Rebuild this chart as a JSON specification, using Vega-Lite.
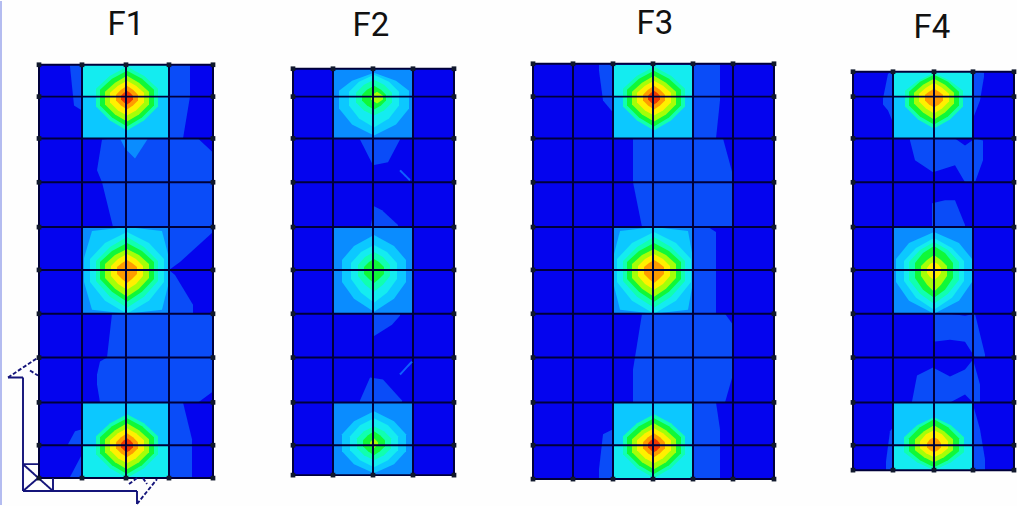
{"$schema":"https://vega.github.io/schema/vega-lite/v6.json","width":1017,"height":506,"padding":0,"autosize":{"type":"fit","contains":"padding"},"background":"#fefefe","config":{"view":{"stroke":null}},
"datasets":{
"shapes":[
{"g":1,"l":0,"x":3.8,"y":6.4,"z":47.9},{"g":1,"l":0,"x":21.4,"y":6.4,"z":47.9},
{"g":2,"l":0,"x":29.3,"y":6.8,"z":47.6},{"g":2,"l":0,"x":45.4,"y":6.8,"z":47.6},
{"g":3,"l":0,"x":53.3,"y":6.3,"z":48.0},{"g":3,"l":0,"x":77.4,"y":6.3,"z":48.0},
{"g":4,"l":0,"x":85.3,"y":7.1,"z":47.1},{"g":4,"l":0,"x":101.4,"y":7.1,"z":47.1},
{"g":10,"l":1,"x":16.9,"y":6.4,"z":13.8},{"g":10,"l":1,"x":18.3,"y":6.4,"z":13.8},{"g":10,"l":1,"x":19.0,"y":6.4,"z":9.6},
{"g":11,"l":1,"x":7.0,"y":6.4,"z":6.6},{"g":11,"l":1,"x":7.4,"y":6.4,"z":10.5},{"g":11,"l":1,"x":8.2,"y":6.4,"z":11.0},
{"g":12,"l":1,"x":9.7,"y":17.0,"z":17.0},{"g":12,"l":1,"x":10.2,"y":13.9,"z":18.2},{"g":12,"l":1,"x":11.3,"y":13.8,"z":22.7},{"g":12,"l":1,"x":19.8,"y":13.8,"z":22.7},{"g":12,"l":1,"x":21.3,"y":15.2,"z":22.7},
{"g":13,"l":2,"x":12.0,"y":13.8,"z":13.8},{"g":13,"l":2,"x":12.5,"y":13.8,"z":14.8},{"g":13,"l":2,"x":13.5,"y":13.8,"z":15.8},{"g":13,"l":2,"x":14.8,"y":13.8,"z":13.8},
{"g":14,"l":1,"x":16.9,"y":22.7,"z":27.0},{"g":14,"l":1,"x":18.0,"y":22.7,"z":26.2},{"g":14,"l":1,"x":21.3,"y":22.7,"z":23.2},
{"g":15,"l":1,"x":16.9,"y":27.0,"z":31.4},{"g":15,"l":1,"x":17.5,"y":27.5,"z":31.4},{"g":15,"l":1,"x":19.3,"y":30.5,"z":31.4},
{"g":16,"l":1,"x":9.7,"y":37.5,"z":38.5},{"g":16,"l":1,"x":10.0,"y":36.2,"z":40.3},{"g":16,"l":1,"x":10.7,"y":35.8,"z":40.3},{"g":16,"l":1,"x":11.2,"y":31.4,"z":40.3},{"g":16,"l":1,"x":19.8,"y":31.4,"z":40.3},{"g":16,"l":1,"x":21.3,"y":31.4,"z":39.2},
{"g":17,"l":1,"x":16.9,"y":40.3,"z":47.9},{"g":17,"l":1,"x":18.3,"y":40.3,"z":47.9},{"g":17,"l":1,"x":19.2,"y":44.0,"z":47.9},
{"g":18,"l":1,"x":6.8,"y":44.5,"z":44.6},{"g":18,"l":1,"x":7.5,"y":43.2,"z":44.6},{"g":18,"l":1,"x":8.2,"y":43.0,"z":44.6},
{"g":19,"l":1,"x":7.0,"y":47.8,"z":47.9},{"g":19,"l":1,"x":8.2,"y":45.5,"z":47.9},
{"g":20,"l":1,"x":36.0,"y":13.8,"z":13.9},{"g":20,"l":1,"x":37.3,"y":13.8,"z":16.5},{"g":20,"l":1,"x":38.8,"y":13.8,"z":16.2},{"g":20,"l":1,"x":40.0,"y":13.8,"z":13.9},
{"g":21,"l":1,"x":37.1,"y":22.5,"z":22.7},{"g":21,"l":1,"x":37.4,"y":20.6,"z":22.7},{"g":21,"l":1,"x":38.2,"y":21.0,"z":22.7},{"g":21,"l":1,"x":39.8,"y":22.5,"z":22.7},
{"g":22,"l":1,"x":37.3,"y":31.4,"z":33.7},{"g":22,"l":1,"x":39.2,"y":31.4,"z":32.5},{"g":22,"l":1,"x":40.0,"y":31.4,"z":31.6},
{"g":23,"l":1,"x":36.0,"y":40.1,"z":40.3},{"g":23,"l":1,"x":37.0,"y":37.8,"z":40.3},{"g":23,"l":1,"x":38.3,"y":38.0,"z":40.3},{"g":23,"l":1,"x":40.2,"y":40.1,"z":40.3},
{"g":24,"l":1,"x":59.9,"y":6.4,"z":7.0},{"g":24,"l":1,"x":60.3,"y":6.4,"z":10.0},{"g":24,"l":1,"x":61.3,"y":6.4,"z":11.2},
{"g":25,"l":1,"x":69.3,"y":6.4,"z":13.8},{"g":25,"l":1,"x":71.6,"y":6.4,"z":13.8},{"g":25,"l":1,"x":72.0,"y":6.4,"z":10.0},
{"g":26,"l":1,"x":63.3,"y":13.8,"z":18.2},{"g":26,"l":1,"x":64.2,"y":13.8,"z":22.7},{"g":26,"l":1,"x":72.3,"y":13.8,"z":22.7},{"g":26,"l":1,"x":73.3,"y":17.5,"z":22.7},
{"g":27,"l":1,"x":69.3,"y":22.7,"z":31.4},{"g":27,"l":1,"x":70.8,"y":22.7,"z":31.4},{"g":27,"l":1,"x":71.6,"y":23.2,"z":31.4},
{"g":28,"l":1,"x":63.3,"y":37.0,"z":40.3},{"g":28,"l":1,"x":64.2,"y":31.4,"z":40.3},{"g":28,"l":1,"x":72.5,"y":31.4,"z":40.3},{"g":28,"l":1,"x":73.3,"y":32.5,"z":37.5},
{"g":29,"l":1,"x":69.3,"y":40.3,"z":48.0},{"g":29,"l":1,"x":71.6,"y":40.3,"z":48.0},{"g":29,"l":1,"x":72.0,"y":43.0,"z":48.0},
{"g":30,"l":1,"x":59.9,"y":47.0,"z":48.0},{"g":30,"l":1,"x":60.3,"y":43.5,"z":48.0},{"g":30,"l":1,"x":61.3,"y":43.0,"z":48.0},
{"g":31,"l":1,"x":88.3,"y":9.8,"z":10.4},{"g":31,"l":1,"x":88.8,"y":7.3,"z":11.0},{"g":31,"l":1,"x":89.3,"y":7.1,"z":12.2},
{"g":32,"l":1,"x":97.3,"y":7.1,"z":11.8},{"g":32,"l":1,"x":98.0,"y":7.1,"z":10.0},{"g":32,"l":1,"x":98.4,"y":7.2,"z":7.6},
{"g":33,"l":1,"x":91.0,"y":13.8,"z":14.0},{"g":33,"l":1,"x":91.5,"y":13.8,"z":16.0},{"g":33,"l":1,"x":93.3,"y":13.8,"z":17.2},{"g":33,"l":1,"x":95.5,"y":13.8,"z":16.5},{"g":33,"l":1,"x":96.5,"y":14.5,"z":18.2},{"g":33,"l":1,"x":97.5,"y":13.8,"z":18.2},{"g":33,"l":1,"x":98.3,"y":14.0,"z":16.0},
{"g":34,"l":1,"x":93.2,"y":20.3,"z":22.7},{"g":34,"l":1,"x":94.5,"y":20.0,"z":22.7},{"g":34,"l":1,"x":95.5,"y":20.0,"z":22.7},{"g":34,"l":1,"x":96.5,"y":22.5,"z":22.7},
{"g":35,"l":1,"x":93.3,"y":31.4,"z":34.2},{"g":35,"l":1,"x":95.0,"y":31.4,"z":34.0},{"g":35,"l":1,"x":96.5,"y":31.6,"z":34.2},{"g":35,"l":1,"x":97.5,"y":31.4,"z":35.8},{"g":35,"l":1,"x":98.5,"y":35.5,"z":35.8},
{"g":36,"l":1,"x":91.2,"y":40.2,"z":40.3},{"g":36,"l":1,"x":91.7,"y":37.6,"z":40.3},{"g":36,"l":1,"x":93.3,"y":36.8,"z":40.3},{"g":36,"l":1,"x":95.0,"y":37.7,"z":40.3},{"g":36,"l":1,"x":96.5,"y":37.0,"z":39.5},{"g":36,"l":1,"x":97.3,"y":36.0,"z":40.3},{"g":36,"l":1,"x":98.0,"y":38.5,"z":40.3},
{"g":37,"l":1,"x":88.6,"y":46.2,"z":47.1},{"g":37,"l":1,"x":89.0,"y":43.2,"z":47.1},{"g":37,"l":1,"x":89.3,"y":42.8,"z":47.1},
{"g":38,"l":1,"x":97.3,"y":40.5,"z":47.1},{"g":38,"l":1,"x":98.0,"y":43.0,"z":47.1},{"g":38,"l":1,"x":98.5,"y":46.0,"z":47.1},
{"g":40,"l":4,"x":8.2,"y":6.4,"z":9.6},{"g":40,"l":4,"x":16.9,"y":6.4,"z":9.6},
{"g":41,"l":3,"x":8.2,"y":9.6,"z":13.8},{"g":41,"l":3,"x":16.9,"y":9.6,"z":13.8},
{"g":42,"l":2,"x":8.2,"y":22.7,"z":31.4},{"g":42,"l":2,"x":16.9,"y":22.7,"z":31.4},
{"g":43,"l":3,"x":8.2,"y":40.3,"z":44.6},{"g":43,"l":3,"x":16.9,"y":40.3,"z":44.6},
{"g":44,"l":4,"x":8.2,"y":44.6,"z":47.9},{"g":44,"l":4,"x":16.9,"y":44.6,"z":47.9},
{"g":45,"l":2,"x":33.3,"y":6.8,"z":13.8},{"g":45,"l":2,"x":41.3,"y":6.8,"z":13.8},
{"g":46,"l":2,"x":33.3,"y":22.7,"z":31.4},{"g":46,"l":2,"x":41.3,"y":22.7,"z":31.4},
{"g":47,"l":2,"x":33.3,"y":40.3,"z":47.6},{"g":47,"l":2,"x":41.3,"y":40.3,"z":47.6},
{"g":48,"l":4,"x":61.3,"y":6.4,"z":9.6},{"g":48,"l":4,"x":69.3,"y":6.4,"z":9.6},
{"g":49,"l":3,"x":61.3,"y":9.6,"z":13.8},{"g":49,"l":3,"x":69.3,"y":9.6,"z":13.8},
{"g":50,"l":2,"x":61.3,"y":22.7,"z":31.4},{"g":50,"l":2,"x":69.3,"y":22.7,"z":31.4},
{"g":51,"l":3,"x":61.3,"y":40.3,"z":44.6},{"g":51,"l":3,"x":69.3,"y":40.3,"z":44.6},
{"g":52,"l":4,"x":61.3,"y":44.6,"z":48.0},{"g":52,"l":4,"x":69.3,"y":44.6,"z":48.0},
{"g":53,"l":4,"x":89.3,"y":7.1,"z":9.6},{"g":53,"l":4,"x":97.3,"y":7.1,"z":9.6},
{"g":54,"l":3,"x":89.3,"y":9.6,"z":13.8},{"g":54,"l":3,"x":97.3,"y":9.6,"z":13.8},
{"g":55,"l":2,"x":89.3,"y":22.7,"z":31.4},{"g":55,"l":2,"x":97.3,"y":22.7,"z":31.4},
{"g":56,"l":3,"x":89.3,"y":40.3,"z":44.6},{"g":56,"l":3,"x":97.3,"y":40.3,"z":44.6},
{"g":57,"l":4,"x":89.3,"y":44.6,"z":47.1},{"g":57,"l":4,"x":97.3,"y":44.6,"z":47.1},
{"g":100,"l":5,"x":9.6,"y":8.8,"z":10.6},{"g":100,"l":5,"x":11.0,"y":7.5,"z":12.0},{"g":100,"l":5,"x":12.7,"y":6.6,"z":13.0},{"g":100,"l":5,"x":14.4,"y":7.5,"z":12.0},{"g":100,"l":5,"x":15.8,"y":8.8,"z":10.6},
{"g":101,"l":6,"x":10.0,"y":8.9,"z":10.5},{"g":101,"l":6,"x":11.2,"y":7.8,"z":11.7},{"g":101,"l":6,"x":12.7,"y":7.0,"z":12.6},{"g":101,"l":6,"x":14.2,"y":7.8,"z":11.7},{"g":101,"l":6,"x":15.4,"y":8.9,"z":10.5},
{"g":102,"l":7,"x":10.5,"y":9.1,"z":10.4},{"g":102,"l":7,"x":11.5,"y":8.2,"z":11.4},{"g":102,"l":7,"x":12.7,"y":7.5,"z":12.1},{"g":102,"l":7,"x":13.9,"y":8.2,"z":11.4},{"g":102,"l":7,"x":14.9,"y":9.1,"z":10.4},
{"g":103,"l":8,"x":11.0,"y":9.2,"z":10.2},{"g":103,"l":8,"x":11.8,"y":8.5,"z":11.0},{"g":103,"l":8,"x":12.7,"y":8.0,"z":11.5},{"g":103,"l":8,"x":13.6,"y":8.5,"z":11.0},{"g":103,"l":8,"x":14.4,"y":9.2,"z":10.2},
{"g":104,"l":9,"x":11.6,"y":9.4,"z":10.0},{"g":104,"l":9,"x":12.1,"y":8.9,"z":10.5},{"g":104,"l":9,"x":12.7,"y":8.5,"z":10.9},{"g":104,"l":9,"x":13.3,"y":8.9,"z":10.5},{"g":104,"l":9,"x":13.8,"y":9.4,"z":10.0},
{"g":105,"l":10,"x":12.1,"y":9.5,"z":9.9},{"g":105,"l":10,"x":12.4,"y":9.2,"z":10.2},{"g":105,"l":10,"x":12.7,"y":9.0,"z":10.4},{"g":105,"l":10,"x":13.0,"y":9.2,"z":10.2},{"g":105,"l":10,"x":13.3,"y":9.5,"z":9.9},
{"g":110,"l":5,"x":9.6,"y":43.7,"z":45.5},{"g":110,"l":5,"x":11.0,"y":42.4,"z":46.9},{"g":110,"l":5,"x":12.7,"y":41.5,"z":47.9},{"g":110,"l":5,"x":14.4,"y":42.4,"z":46.9},{"g":110,"l":5,"x":15.8,"y":43.7,"z":45.5},
{"g":111,"l":6,"x":10.0,"y":43.8,"z":45.4},{"g":111,"l":6,"x":11.2,"y":42.7,"z":46.6},{"g":111,"l":6,"x":12.7,"y":41.9,"z":47.5},{"g":111,"l":6,"x":14.2,"y":42.7,"z":46.6},{"g":111,"l":6,"x":15.4,"y":43.8,"z":45.4},
{"g":112,"l":7,"x":10.5,"y":44.0,"z":45.3},{"g":112,"l":7,"x":11.5,"y":43.1,"z":46.3},{"g":112,"l":7,"x":12.7,"y":42.4,"z":47.0},{"g":112,"l":7,"x":13.9,"y":43.1,"z":46.3},{"g":112,"l":7,"x":14.9,"y":44.0,"z":45.3},
{"g":113,"l":8,"x":11.0,"y":44.1,"z":45.1},{"g":113,"l":8,"x":11.8,"y":43.4,"z":45.9},{"g":113,"l":8,"x":12.7,"y":42.9,"z":46.4},{"g":113,"l":8,"x":13.6,"y":43.4,"z":45.9},{"g":113,"l":8,"x":14.4,"y":44.1,"z":45.1},
{"g":114,"l":9,"x":11.6,"y":44.3,"z":44.9},{"g":114,"l":9,"x":12.1,"y":43.8,"z":45.4},{"g":114,"l":9,"x":12.7,"y":43.4,"z":45.8},{"g":114,"l":9,"x":13.3,"y":43.8,"z":45.4},{"g":114,"l":9,"x":13.8,"y":44.3,"z":44.9},
{"g":115,"l":10,"x":12.1,"y":44.4,"z":44.8},{"g":115,"l":10,"x":12.4,"y":44.1,"z":45.1},{"g":115,"l":10,"x":12.7,"y":43.9,"z":45.3},{"g":115,"l":10,"x":13.0,"y":44.1,"z":45.1},{"g":115,"l":10,"x":13.3,"y":44.4,"z":44.8},
{"g":120,"l":5,"x":62.3,"y":8.8,"z":10.6},{"g":120,"l":5,"x":63.7,"y":7.5,"z":12.0},{"g":120,"l":5,"x":65.4,"y":6.6,"z":13.0},{"g":120,"l":5,"x":67.1,"y":7.5,"z":12.0},{"g":120,"l":5,"x":68.5,"y":8.8,"z":10.6},
{"g":121,"l":6,"x":62.7,"y":8.9,"z":10.5},{"g":121,"l":6,"x":63.9,"y":7.8,"z":11.7},{"g":121,"l":6,"x":65.4,"y":7.0,"z":12.6},{"g":121,"l":6,"x":66.9,"y":7.8,"z":11.7},{"g":121,"l":6,"x":68.1,"y":8.9,"z":10.5},
{"g":122,"l":7,"x":63.2,"y":9.1,"z":10.4},{"g":122,"l":7,"x":64.2,"y":8.2,"z":11.4},{"g":122,"l":7,"x":65.4,"y":7.5,"z":12.1},{"g":122,"l":7,"x":66.6,"y":8.2,"z":11.4},{"g":122,"l":7,"x":67.6,"y":9.1,"z":10.4},
{"g":123,"l":8,"x":63.7,"y":9.2,"z":10.2},{"g":123,"l":8,"x":64.5,"y":8.5,"z":11.0},{"g":123,"l":8,"x":65.4,"y":8.0,"z":11.5},{"g":123,"l":8,"x":66.3,"y":8.5,"z":11.0},{"g":123,"l":8,"x":67.1,"y":9.2,"z":10.2},
{"g":124,"l":9,"x":64.3,"y":9.4,"z":10.0},{"g":124,"l":9,"x":64.8,"y":8.9,"z":10.5},{"g":124,"l":9,"x":65.4,"y":8.5,"z":10.9},{"g":124,"l":9,"x":66.0,"y":8.9,"z":10.5},{"g":124,"l":9,"x":66.5,"y":9.4,"z":10.0},
{"g":125,"l":10,"x":64.8,"y":9.5,"z":9.9},{"g":125,"l":10,"x":65.1,"y":9.2,"z":10.2},{"g":125,"l":10,"x":65.4,"y":9.0,"z":10.4},{"g":125,"l":10,"x":65.7,"y":9.2,"z":10.2},{"g":125,"l":10,"x":66.0,"y":9.5,"z":9.9},
{"g":130,"l":5,"x":62.3,"y":43.7,"z":45.5},{"g":130,"l":5,"x":63.7,"y":42.4,"z":46.9},{"g":130,"l":5,"x":65.4,"y":41.5,"z":47.9},{"g":130,"l":5,"x":67.1,"y":42.4,"z":46.9},{"g":130,"l":5,"x":68.5,"y":43.7,"z":45.5},
{"g":131,"l":6,"x":62.7,"y":43.8,"z":45.4},{"g":131,"l":6,"x":63.9,"y":42.7,"z":46.6},{"g":131,"l":6,"x":65.4,"y":41.9,"z":47.5},{"g":131,"l":6,"x":66.9,"y":42.7,"z":46.6},{"g":131,"l":6,"x":68.1,"y":43.8,"z":45.4},
{"g":132,"l":7,"x":63.2,"y":44.0,"z":45.3},{"g":132,"l":7,"x":64.2,"y":43.1,"z":46.3},{"g":132,"l":7,"x":65.4,"y":42.4,"z":47.0},{"g":132,"l":7,"x":66.6,"y":43.1,"z":46.3},{"g":132,"l":7,"x":67.6,"y":44.0,"z":45.3},
{"g":133,"l":8,"x":63.7,"y":44.1,"z":45.1},{"g":133,"l":8,"x":64.5,"y":43.4,"z":45.9},{"g":133,"l":8,"x":65.4,"y":42.9,"z":46.4},{"g":133,"l":8,"x":66.3,"y":43.4,"z":45.9},{"g":133,"l":8,"x":67.1,"y":44.1,"z":45.1},
{"g":134,"l":9,"x":64.3,"y":44.3,"z":44.9},{"g":134,"l":9,"x":64.8,"y":43.8,"z":45.4},{"g":134,"l":9,"x":65.4,"y":43.4,"z":45.8},{"g":134,"l":9,"x":66.0,"y":43.8,"z":45.4},{"g":134,"l":9,"x":66.5,"y":44.3,"z":44.9},
{"g":135,"l":10,"x":64.8,"y":44.4,"z":44.8},{"g":135,"l":10,"x":65.1,"y":44.1,"z":45.1},{"g":135,"l":10,"x":65.4,"y":43.9,"z":45.3},{"g":135,"l":10,"x":65.7,"y":44.1,"z":45.1},{"g":135,"l":10,"x":66.0,"y":44.4,"z":44.8},
{"g":140,"l":3,"x":8.4,"y":25.8,"z":28.2},{"g":140,"l":3,"x":9.2,"y":23.1,"z":31.0},{"g":140,"l":3,"x":12.7,"y":22.7,"z":31.4},{"g":140,"l":3,"x":16.2,"y":23.1,"z":31.0},{"g":140,"l":3,"x":16.9,"y":25.8,"z":28.2},
{"g":141,"l":4,"x":9.0,"y":25.9,"z":28.2},{"g":141,"l":4,"x":10.5,"y":24.3,"z":30.1},{"g":141,"l":4,"x":12.7,"y":23.2,"z":31.4},{"g":141,"l":4,"x":14.9,"y":24.3,"z":30.1},{"g":141,"l":4,"x":16.4,"y":25.9,"z":28.2},
{"g":142,"l":5,"x":9.6,"y":26.1,"z":28.1},{"g":142,"l":5,"x":11.0,"y":24.7,"z":29.7},{"g":142,"l":5,"x":12.7,"y":23.7,"z":30.8},{"g":142,"l":5,"x":14.4,"y":24.7,"z":29.7},{"g":142,"l":5,"x":15.8,"y":26.1,"z":28.1},
{"g":143,"l":6,"x":10.0,"y":26.2,"z":27.9},{"g":143,"l":6,"x":11.2,"y":25.1,"z":29.2},{"g":143,"l":6,"x":12.7,"y":24.3,"z":30.2},{"g":143,"l":6,"x":14.2,"y":25.1,"z":29.2},{"g":143,"l":6,"x":15.4,"y":26.2,"z":27.9},
{"g":144,"l":7,"x":10.5,"y":26.4,"z":27.8},{"g":144,"l":7,"x":11.5,"y":25.5,"z":28.9},{"g":144,"l":7,"x":12.7,"y":24.9,"z":29.7},{"g":144,"l":7,"x":13.9,"y":25.5,"z":28.9},{"g":144,"l":7,"x":14.9,"y":26.4,"z":27.8},
{"g":145,"l":8,"x":11.1,"y":26.6,"z":27.6},{"g":145,"l":8,"x":11.8,"y":25.9,"z":28.4},{"g":145,"l":8,"x":12.7,"y":25.4,"z":29.0},{"g":145,"l":8,"x":13.6,"y":25.9,"z":28.4},{"g":145,"l":8,"x":14.3,"y":26.6,"z":27.6},
{"g":146,"l":9,"x":11.7,"y":26.7,"z":27.4},{"g":146,"l":9,"x":12.2,"y":26.3,"z":27.9},{"g":146,"l":9,"x":12.7,"y":26.0,"z":28.3},{"g":146,"l":9,"x":13.2,"y":26.3,"z":27.9},{"g":146,"l":9,"x":13.7,"y":26.7,"z":27.4},
{"g":150,"l":3,"x":61.3,"y":25.8,"z":28.2},{"g":150,"l":3,"x":62.0,"y":23.1,"z":31.0},{"g":150,"l":3,"x":65.4,"y":22.7,"z":31.4},{"g":150,"l":3,"x":68.8,"y":23.1,"z":31.0},{"g":150,"l":3,"x":69.3,"y":25.8,"z":28.2},
{"g":151,"l":4,"x":61.7,"y":25.9,"z":28.2},{"g":151,"l":4,"x":63.2,"y":24.3,"z":30.1},{"g":151,"l":4,"x":65.4,"y":23.2,"z":31.4},{"g":151,"l":4,"x":67.6,"y":24.3,"z":30.1},{"g":151,"l":4,"x":69.1,"y":25.9,"z":28.2},
{"g":152,"l":5,"x":62.3,"y":26.1,"z":28.1},{"g":152,"l":5,"x":63.7,"y":24.7,"z":29.7},{"g":152,"l":5,"x":65.4,"y":23.7,"z":30.8},{"g":152,"l":5,"x":67.1,"y":24.7,"z":29.7},{"g":152,"l":5,"x":68.5,"y":26.1,"z":28.1},
{"g":153,"l":6,"x":62.7,"y":26.2,"z":27.9},{"g":153,"l":6,"x":63.9,"y":25.1,"z":29.2},{"g":153,"l":6,"x":65.4,"y":24.3,"z":30.2},{"g":153,"l":6,"x":66.9,"y":25.1,"z":29.2},{"g":153,"l":6,"x":68.1,"y":26.2,"z":27.9},
{"g":154,"l":7,"x":63.2,"y":26.4,"z":27.8},{"g":154,"l":7,"x":64.2,"y":25.5,"z":28.9},{"g":154,"l":7,"x":65.4,"y":24.9,"z":29.7},{"g":154,"l":7,"x":66.6,"y":25.5,"z":28.9},{"g":154,"l":7,"x":67.6,"y":26.4,"z":27.8},
{"g":155,"l":8,"x":63.8,"y":26.6,"z":27.6},{"g":155,"l":8,"x":64.5,"y":25.9,"z":28.4},{"g":155,"l":8,"x":65.4,"y":25.4,"z":29.0},{"g":155,"l":8,"x":66.3,"y":25.9,"z":28.4},{"g":155,"l":8,"x":67.0,"y":26.6,"z":27.6},
{"g":156,"l":9,"x":64.4,"y":26.7,"z":27.4},{"g":156,"l":9,"x":64.9,"y":26.3,"z":27.9},{"g":156,"l":9,"x":65.4,"y":26.0,"z":28.3},{"g":156,"l":9,"x":65.9,"y":26.3,"z":27.9},{"g":156,"l":9,"x":66.4,"y":26.7,"z":27.4},
{"g":160,"l":5,"x":90.5,"y":9.0,"z":10.6},{"g":160,"l":5,"x":91.8,"y":8.0,"z":11.9},{"g":160,"l":5,"x":93.4,"y":7.2,"z":12.8},{"g":160,"l":5,"x":95.0,"y":8.0,"z":11.9},{"g":160,"l":5,"x":96.3,"y":9.0,"z":10.6},
{"g":161,"l":6,"x":90.9,"y":9.1,"z":10.5},{"g":161,"l":6,"x":92.0,"y":8.1,"z":11.6},{"g":161,"l":6,"x":93.4,"y":7.4,"z":12.4},{"g":161,"l":6,"x":94.8,"y":8.1,"z":11.6},{"g":161,"l":6,"x":95.9,"y":9.1,"z":10.5},
{"g":162,"l":7,"x":91.4,"y":9.2,"z":10.3},{"g":162,"l":7,"x":92.3,"y":8.4,"z":11.2},{"g":162,"l":7,"x":93.4,"y":7.8,"z":11.9},{"g":162,"l":7,"x":94.5,"y":8.4,"z":11.2},{"g":162,"l":7,"x":95.4,"y":9.2,"z":10.3},
{"g":163,"l":8,"x":91.9,"y":9.3,"z":10.1},{"g":163,"l":8,"x":92.6,"y":8.7,"z":10.8},{"g":163,"l":8,"x":93.4,"y":8.2,"z":11.3},{"g":163,"l":8,"x":94.2,"y":8.7,"z":10.8},{"g":163,"l":8,"x":94.9,"y":9.3,"z":10.1},
{"g":164,"l":9,"x":92.5,"y":9.4,"z":10.0},{"g":164,"l":9,"x":92.9,"y":9.1,"z":10.4},{"g":164,"l":9,"x":93.4,"y":8.8,"z":10.7},{"g":164,"l":9,"x":93.9,"y":9.1,"z":10.4},{"g":164,"l":9,"x":94.3,"y":9.4,"z":10.0},
{"g":170,"l":3,"x":89.6,"y":25.9,"z":28.2},{"g":170,"l":3,"x":90.9,"y":24.3,"z":30.1},{"g":170,"l":3,"x":93.4,"y":23.2,"z":31.4},{"g":170,"l":3,"x":95.9,"y":24.3,"z":30.1},{"g":170,"l":3,"x":97.2,"y":25.9,"z":28.2},
{"g":171,"l":4,"x":90.4,"y":26.1,"z":28.1},{"g":171,"l":4,"x":91.6,"y":24.8,"z":29.8},{"g":171,"l":4,"x":93.4,"y":23.8,"z":31.0},{"g":171,"l":4,"x":95.2,"y":24.8,"z":29.8},{"g":171,"l":4,"x":96.4,"y":26.1,"z":28.1},
{"g":172,"l":5,"x":90.9,"y":26.2,"z":28.0},{"g":172,"l":5,"x":92.0,"y":25.0,"z":29.4},{"g":172,"l":5,"x":93.4,"y":24.2,"z":30.4},{"g":172,"l":5,"x":94.8,"y":25.0,"z":29.4},{"g":172,"l":5,"x":95.9,"y":26.2,"z":28.0},
{"g":173,"l":6,"x":91.5,"y":26.3,"z":27.8},{"g":173,"l":6,"x":92.3,"y":25.3,"z":29.0},{"g":173,"l":6,"x":93.4,"y":24.6,"z":29.8},{"g":173,"l":6,"x":94.5,"y":25.3,"z":29.0},{"g":173,"l":6,"x":95.3,"y":26.3,"z":27.8},
{"g":174,"l":7,"x":92.1,"y":26.6,"z":27.6},{"g":174,"l":7,"x":92.7,"y":26.0,"z":28.5},{"g":174,"l":7,"x":93.4,"y":25.5,"z":29.2},{"g":174,"l":7,"x":94.1,"y":26.0,"z":28.5},{"g":174,"l":7,"x":94.7,"y":26.6,"z":27.6},
{"g":175,"l":8,"x":92.7,"y":26.8,"z":27.3},{"g":175,"l":8,"x":93.0,"y":26.4,"z":27.7},{"g":175,"l":8,"x":93.4,"y":26.2,"z":28.0},{"g":175,"l":8,"x":93.8,"y":26.4,"z":27.7},{"g":175,"l":8,"x":94.1,"y":26.8,"z":27.3},
{"g":180,"l":5,"x":90.4,"y":43.8,"z":45.3},{"g":180,"l":5,"x":91.7,"y":42.6,"z":46.3},{"g":180,"l":5,"x":93.4,"y":41.8,"z":47.1},{"g":180,"l":5,"x":95.1,"y":42.6,"z":46.3},{"g":180,"l":5,"x":96.4,"y":43.8,"z":45.3},
{"g":181,"l":6,"x":90.9,"y":43.9,"z":45.2},{"g":181,"l":6,"x":92.0,"y":42.8,"z":46.1},{"g":181,"l":6,"x":93.4,"y":42.0,"z":46.8},{"g":181,"l":6,"x":94.8,"y":42.8,"z":46.1},{"g":181,"l":6,"x":95.9,"y":43.9,"z":45.2},
{"g":182,"l":7,"x":91.5,"y":44.0,"z":45.1},{"g":182,"l":7,"x":92.4,"y":43.2,"z":45.8},{"g":182,"l":7,"x":93.4,"y":42.6,"z":46.3},{"g":182,"l":7,"x":94.4,"y":43.2,"z":45.8},{"g":182,"l":7,"x":95.3,"y":44.0,"z":45.1},
{"g":183,"l":8,"x":92.0,"y":44.2,"z":44.9},{"g":183,"l":8,"x":92.6,"y":43.5,"z":45.4},{"g":183,"l":8,"x":93.4,"y":43.1,"z":45.8},{"g":183,"l":8,"x":94.2,"y":43.5,"z":45.4},{"g":183,"l":8,"x":94.8,"y":44.2,"z":44.9},
{"g":184,"l":9,"x":92.7,"y":44.4,"z":44.8},{"g":184,"l":9,"x":93.0,"y":44.0,"z":45.1},{"g":184,"l":9,"x":93.4,"y":43.8,"z":45.3},{"g":184,"l":9,"x":93.8,"y":44.0,"z":45.1},{"g":184,"l":9,"x":94.1,"y":44.4,"z":44.8},
{"g":190,"l":3,"x":33.9,"y":9.0,"z":10.8},{"g":190,"l":3,"x":35.2,"y":8.0,"z":12.4},{"g":190,"l":3,"x":37.4,"y":7.2,"z":13.5},{"g":190,"l":3,"x":39.6,"y":8.0,"z":12.4},{"g":190,"l":3,"x":40.9,"y":9.0,"z":10.8},
{"g":191,"l":4,"x":34.9,"y":9.1,"z":10.5},{"g":191,"l":4,"x":35.9,"y":8.1,"z":11.8},{"g":191,"l":4,"x":37.4,"y":7.4,"z":12.7},{"g":191,"l":4,"x":38.9,"y":8.1,"z":11.8},{"g":191,"l":4,"x":39.9,"y":9.1,"z":10.5},
{"g":192,"l":5,"x":35.6,"y":9.2,"z":10.2},{"g":192,"l":5,"x":36.4,"y":8.4,"z":11.0},{"g":192,"l":5,"x":37.4,"y":7.9,"z":11.5},{"g":192,"l":5,"x":38.4,"y":8.4,"z":11.0},{"g":192,"l":5,"x":39.2,"y":9.2,"z":10.2},
{"g":193,"l":6,"x":36.2,"y":9.4,"z":10.0},{"g":193,"l":6,"x":36.7,"y":8.9,"z":10.5},{"g":193,"l":6,"x":37.4,"y":8.5,"z":10.9},{"g":193,"l":6,"x":38.1,"y":8.9,"z":10.5},{"g":193,"l":6,"x":38.6,"y":9.4,"z":10.0},
{"g":194,"l":7,"x":37.1,"y":9.5,"z":9.9},{"g":194,"l":7,"x":37.4,"y":9.3,"z":10.1},{"g":194,"l":7,"x":37.7,"y":9.1,"z":10.3},{"g":194,"l":7,"x":38.0,"y":9.3,"z":10.1},{"g":194,"l":7,"x":38.3,"y":9.5,"z":9.9},
{"g":200,"l":3,"x":34.2,"y":26.0,"z":28.2},{"g":200,"l":3,"x":35.4,"y":24.6,"z":29.9},{"g":200,"l":3,"x":37.4,"y":23.5,"z":31.2},{"g":200,"l":3,"x":39.4,"y":24.6,"z":29.9},{"g":200,"l":3,"x":40.6,"y":26.0,"z":28.2},
{"g":201,"l":4,"x":35.1,"y":26.3,"z":27.9},{"g":201,"l":4,"x":36.1,"y":25.2,"z":29.3},{"g":201,"l":4,"x":37.4,"y":24.5,"z":30.3},{"g":201,"l":4,"x":38.7,"y":25.2,"z":29.3},{"g":201,"l":4,"x":39.7,"y":26.3,"z":27.9},
{"g":202,"l":5,"x":35.8,"y":26.5,"z":27.6},{"g":202,"l":5,"x":36.5,"y":25.7,"z":28.5},{"g":202,"l":5,"x":37.4,"y":25.2,"z":29.2},{"g":202,"l":5,"x":38.3,"y":25.7,"z":28.5},{"g":202,"l":5,"x":39.0,"y":26.5,"z":27.6},
{"g":203,"l":6,"x":36.4,"y":26.7,"z":27.4},{"g":203,"l":6,"x":36.9,"y":26.2,"z":27.9},{"g":203,"l":6,"x":37.4,"y":25.9,"z":28.3},{"g":203,"l":6,"x":37.9,"y":26.2,"z":27.9},{"g":203,"l":6,"x":38.4,"y":26.7,"z":27.4},
{"g":210,"l":3,"x":34.2,"y":43.5,"z":45.2},{"g":210,"l":3,"x":35.4,"y":42.2,"z":46.5},{"g":210,"l":3,"x":37.4,"y":41.2,"z":47.4},{"g":210,"l":3,"x":39.4,"y":42.2,"z":46.5},{"g":210,"l":3,"x":40.6,"y":43.5,"z":45.2},
{"g":211,"l":4,"x":35.0,"y":43.7,"z":45.1},{"g":211,"l":4,"x":36.0,"y":42.6,"z":46.1},{"g":211,"l":4,"x":37.4,"y":41.9,"z":46.8},{"g":211,"l":4,"x":38.8,"y":42.6,"z":46.1},{"g":211,"l":4,"x":39.8,"y":43.7,"z":45.1},
{"g":212,"l":5,"x":35.7,"y":43.9,"z":44.9},{"g":212,"l":5,"x":36.4,"y":43.2,"z":45.6},{"g":212,"l":5,"x":37.4,"y":42.7,"z":46.1},{"g":212,"l":5,"x":38.4,"y":43.2,"z":45.6},{"g":212,"l":5,"x":39.1,"y":43.9,"z":44.9},
{"g":213,"l":6,"x":36.3,"y":44.1,"z":44.7},{"g":213,"l":6,"x":36.8,"y":43.6,"z":45.2},{"g":213,"l":6,"x":37.4,"y":43.2,"z":45.6},{"g":213,"l":6,"x":38.0,"y":43.6,"z":45.2},{"g":213,"l":6,"x":38.5,"y":44.1,"z":44.7},
{"g":214,"l":7,"x":37.0,"y":44.3,"z":44.5},{"g":214,"l":7,"x":37.2,"y":44.1,"z":44.7},{"g":214,"l":7,"x":37.4,"y":43.9,"z":44.9},{"g":214,"l":7,"x":37.6,"y":44.1,"z":44.7},{"g":214,"l":7,"x":37.8,"y":44.3,"z":44.5}
],
"lines":[
{"k":"e","x":0.1,"u":0.1,"y":0,"z":50.6},
{"k":"g","x":3.9,"u":3.9,"y":6.4,"z":47.9},{"k":"g","x":8.2,"u":8.2,"y":6.4,"z":47.9},{"k":"g","x":12.6,"u":12.6,"y":6.4,"z":47.9},{"k":"g","x":16.9,"u":16.9,"y":6.4,"z":47.9},{"k":"g","x":21.3,"u":21.3,"y":6.4,"z":47.9},
{"k":"g","x":3.9,"u":21.3,"y":6.4,"z":6.4},{"k":"g","x":3.9,"u":21.3,"y":9.6,"z":9.6},{"k":"g","x":3.9,"u":21.3,"y":13.8,"z":13.8},{"k":"g","x":3.9,"u":21.3,"y":18.2,"z":18.2},{"k":"g","x":3.9,"u":21.3,"y":22.7,"z":22.7},{"k":"g","x":3.9,"u":21.3,"y":27.0,"z":27.0},{"k":"g","x":3.9,"u":21.3,"y":31.4,"z":31.4},{"k":"g","x":3.9,"u":21.3,"y":35.8,"z":35.8},{"k":"g","x":3.9,"u":21.3,"y":40.3,"z":40.3},{"k":"g","x":3.9,"u":21.3,"y":44.6,"z":44.6},{"k":"g","x":3.9,"u":21.3,"y":47.9,"z":47.9},
{"k":"g","x":29.3,"u":29.3,"y":6.8,"z":47.6},{"k":"g","x":33.3,"u":33.3,"y":6.8,"z":47.6},{"k":"g","x":37.3,"u":37.3,"y":6.8,"z":47.6},{"k":"g","x":41.3,"u":41.3,"y":6.8,"z":47.6},{"k":"g","x":45.4,"u":45.4,"y":6.8,"z":47.6},
{"k":"g","x":29.3,"u":45.4,"y":6.8,"z":6.8},{"k":"g","x":29.3,"u":45.4,"y":9.6,"z":9.6},{"k":"g","x":29.3,"u":45.4,"y":13.8,"z":13.8},{"k":"g","x":29.3,"u":45.4,"y":18.2,"z":18.2},{"k":"g","x":29.3,"u":45.4,"y":22.7,"z":22.7},{"k":"g","x":29.3,"u":45.4,"y":27.0,"z":27.0},{"k":"g","x":29.3,"u":45.4,"y":31.4,"z":31.4},{"k":"g","x":29.3,"u":45.4,"y":35.8,"z":35.8},{"k":"g","x":29.3,"u":45.4,"y":40.3,"z":40.3},{"k":"g","x":29.3,"u":45.4,"y":44.6,"z":44.6},{"k":"g","x":29.3,"u":45.4,"y":47.6,"z":47.6},
{"k":"g","x":53.3,"u":53.3,"y":6.3,"z":48.0},{"k":"g","x":57.3,"u":57.3,"y":6.3,"z":48.0},{"k":"g","x":61.3,"u":61.3,"y":6.3,"z":48.0},{"k":"g","x":65.3,"u":65.3,"y":6.3,"z":48.0},{"k":"g","x":69.3,"u":69.3,"y":6.3,"z":48.0},{"k":"g","x":73.3,"u":73.3,"y":6.3,"z":48.0},{"k":"g","x":77.4,"u":77.4,"y":6.3,"z":48.0},
{"k":"g","x":53.3,"u":77.4,"y":6.3,"z":6.3},{"k":"g","x":53.3,"u":77.4,"y":9.6,"z":9.6},{"k":"g","x":53.3,"u":77.4,"y":13.8,"z":13.8},{"k":"g","x":53.3,"u":77.4,"y":18.2,"z":18.2},{"k":"g","x":53.3,"u":77.4,"y":22.7,"z":22.7},{"k":"g","x":53.3,"u":77.4,"y":27.0,"z":27.0},{"k":"g","x":53.3,"u":77.4,"y":31.4,"z":31.4},{"k":"g","x":53.3,"u":77.4,"y":35.8,"z":35.8},{"k":"g","x":53.3,"u":77.4,"y":40.3,"z":40.3},{"k":"g","x":53.3,"u":77.4,"y":44.6,"z":44.6},{"k":"g","x":53.3,"u":77.4,"y":48.0,"z":48.0},
{"k":"g","x":85.3,"u":85.3,"y":7.1,"z":47.1},{"k":"g","x":89.3,"u":89.3,"y":7.1,"z":47.1},{"k":"g","x":93.4,"u":93.4,"y":7.1,"z":47.1},{"k":"g","x":97.3,"u":97.3,"y":7.1,"z":47.1},{"k":"g","x":101.4,"u":101.4,"y":7.1,"z":47.1},
{"k":"g","x":85.3,"u":101.4,"y":7.1,"z":7.1},{"k":"g","x":85.3,"u":101.4,"y":9.6,"z":9.6},{"k":"g","x":85.3,"u":101.4,"y":13.8,"z":13.8},{"k":"g","x":85.3,"u":101.4,"y":18.2,"z":18.2},{"k":"g","x":85.3,"u":101.4,"y":22.7,"z":22.7},{"k":"g","x":85.3,"u":101.4,"y":27.0,"z":27.0},{"k":"g","x":85.3,"u":101.4,"y":31.4,"z":31.4},{"k":"g","x":85.3,"u":101.4,"y":35.8,"z":35.8},{"k":"g","x":85.3,"u":101.4,"y":40.3,"z":40.3},{"k":"g","x":85.3,"u":101.4,"y":44.6,"z":44.6},{"k":"g","x":85.3,"u":101.4,"y":47.1,"z":47.1},
{"k":"s","x":40.0,"u":41.0,"y":17.0,"z":18.0},{"k":"s","x":40.0,"u":41.2,"y":37.5,"z":36.2},
{"k":"f","x":2.3,"u":2.3,"y":37.8,"z":49.2},{"k":"f","x":0.8,"u":2.3,"y":37.8,"z":37.8},{"k":"f","x":2.3,"u":3.8,"y":46.5,"z":46.5},{"k":"f","x":2.3,"u":13.7,"y":49.2,"z":49.2},{"k":"f","x":13.7,"u":13.7,"y":49.2,"z":50.5},{"k":"f","x":5.3,"u":5.3,"y":47.9,"z":49.2},{"k":"f","x":2.3,"u":5.3,"y":46.5,"z":49.2},{"k":"f","x":3.8,"u":2.3,"y":47.9,"z":49.2},
{"k":"d","x":0.8,"u":3.8,"y":37.8,"z":35.8},{"k":"d","x":3.0,"u":3.8,"y":37.1,"z":37.6},{"k":"d","x":13.7,"u":15.7,"y":50.5,"z":48.0},{"k":"d","x":12.9,"u":13.7,"y":48.5,"z":47.9},{"k":"d","x":14.3,"u":14.7,"y":47.9,"z":48.5}
],
"nodes":[
{"x":3.9,"y":6.4},{"x":8.2,"y":6.4},{"x":12.6,"y":6.4},{"x":16.9,"y":6.4},{"x":21.3,"y":6.4},{"x":3.9,"y":47.9},{"x":8.2,"y":47.9},{"x":12.6,"y":47.9},{"x":16.9,"y":47.9},{"x":21.3,"y":47.9},
{"x":3.9,"y":9.6},{"x":3.9,"y":13.8},{"x":3.9,"y":18.2},{"x":3.9,"y":22.7},{"x":3.9,"y":27.0},{"x":3.9,"y":31.4},{"x":3.9,"y":35.8},{"x":3.9,"y":40.3},{"x":3.9,"y":44.6},
{"x":21.3,"y":9.6},{"x":21.3,"y":13.8},{"x":21.3,"y":18.2},{"x":21.3,"y":22.7},{"x":21.3,"y":27.0},{"x":21.3,"y":31.4},{"x":21.3,"y":35.8},{"x":21.3,"y":40.3},{"x":21.3,"y":44.6},
{"x":29.3,"y":6.8},{"x":33.3,"y":6.8},{"x":37.3,"y":6.8},{"x":41.3,"y":6.8},{"x":45.4,"y":6.8},{"x":29.3,"y":47.6},{"x":33.3,"y":47.6},{"x":37.3,"y":47.6},{"x":41.3,"y":47.6},{"x":45.4,"y":47.6},
{"x":29.3,"y":9.6},{"x":29.3,"y":13.8},{"x":29.3,"y":18.2},{"x":29.3,"y":22.7},{"x":29.3,"y":27.0},{"x":29.3,"y":31.4},{"x":29.3,"y":35.8},{"x":29.3,"y":40.3},{"x":29.3,"y":44.6},
{"x":45.4,"y":9.6},{"x":45.4,"y":13.8},{"x":45.4,"y":18.2},{"x":45.4,"y":22.7},{"x":45.4,"y":27.0},{"x":45.4,"y":31.4},{"x":45.4,"y":35.8},{"x":45.4,"y":40.3},{"x":45.4,"y":44.6},
{"x":53.3,"y":6.3},{"x":57.3,"y":6.3},{"x":61.3,"y":6.3},{"x":65.3,"y":6.3},{"x":69.3,"y":6.3},{"x":73.3,"y":6.3},{"x":77.4,"y":6.3},{"x":53.3,"y":48.0},{"x":57.3,"y":48.0},{"x":61.3,"y":48.0},{"x":65.3,"y":48.0},{"x":69.3,"y":48.0},{"x":73.3,"y":48.0},{"x":77.4,"y":48.0},
{"x":53.3,"y":9.6},{"x":53.3,"y":13.8},{"x":53.3,"y":18.2},{"x":53.3,"y":22.7},{"x":53.3,"y":27.0},{"x":53.3,"y":31.4},{"x":53.3,"y":35.8},{"x":53.3,"y":40.3},{"x":53.3,"y":44.6},
{"x":77.4,"y":9.6},{"x":77.4,"y":13.8},{"x":77.4,"y":18.2},{"x":77.4,"y":22.7},{"x":77.4,"y":27.0},{"x":77.4,"y":31.4},{"x":77.4,"y":35.8},{"x":77.4,"y":40.3},{"x":77.4,"y":44.6},
{"x":85.3,"y":7.1},{"x":89.3,"y":7.1},{"x":93.4,"y":7.1},{"x":97.3,"y":7.1},{"x":101.4,"y":7.1},{"x":85.3,"y":47.1},{"x":89.3,"y":47.1},{"x":93.4,"y":47.1},{"x":97.3,"y":47.1},{"x":101.4,"y":47.1},
{"x":85.3,"y":9.6},{"x":85.3,"y":13.8},{"x":85.3,"y":18.2},{"x":85.3,"y":22.7},{"x":85.3,"y":27.0},{"x":85.3,"y":31.4},{"x":85.3,"y":35.8},{"x":85.3,"y":40.3},{"x":85.3,"y":44.6},
{"x":101.4,"y":9.6},{"x":101.4,"y":13.8},{"x":101.4,"y":18.2},{"x":101.4,"y":22.7},{"x":101.4,"y":27.0},{"x":101.4,"y":31.4},{"x":101.4,"y":35.8},{"x":101.4,"y":40.3},{"x":101.4,"y":44.6}
],
"titles":[{"t":"F1","x":12.6,"y":2.4},{"t":"F2","x":37.1,"y":2.55},{"t":"F3","x":65.5,"y":2.3},{"t":"F4","x":93.2,"y":2.7}]
},
"layer":[
{"data":{"name":"shapes"},"mark":{"type":"area","orient":"vertical","interpolate":"linear"},
"encoding":{
"x":{"field":"x","type":"quantitative","scale":{"domain":[0,101.7],"nice":false,"zero":false},"axis":null},
"y":{"field":"y","type":"quantitative","scale":{"domain":[50.6,0],"nice":false,"zero":false},"axis":null,"stack":null},
"y2":{"field":"z"},
"detail":{"field":"g"},
"fill":{"field":"l","type":"ordinal","legend":null,"scale":{"domain":[0,1,2,3,4,5,6,7,8,9,10],"range":["#0404ee","#0a4cf8","#0a8cff","#0cc8ff","#14ecf0","#10ffb0","#10f838","#a4ff08","#fff000","#ff9c00","#f03800"]}}}},
{"data":{"name":"lines"},"mark":{"type":"rule"},
"encoding":{
"x":{"field":"x","type":"quantitative"},"x2":{"field":"u"},
"y":{"field":"y","type":"quantitative"},"y2":{"field":"z"},
"stroke":{"field":"k","type":"nominal","legend":null,"scale":{"domain":["e","g","s","f","d"],"range":["#b4bcf0","#00003a","#1060ff","#14147a","#14147a"]}},
"strokeWidth":{"field":"k","type":"nominal","legend":null,"scale":{"domain":["e","g","s","f","d"],"range":[2,1.9,1,1.7,1.5]}},
"strokeDash":{"field":"k","type":"nominal","legend":null,"scale":{"domain":["e","g","s","f","d"],"range":[[1,0],[1,0],[1,0],[1,0],[4,2]]}}}},
{"data":{"name":"nodes"},"mark":{"type":"point","shape":"square","filled":true,"size":22,"color":"#10182c","opacity":1},
"encoding":{"x":{"field":"x","type":"quantitative"},"y":{"field":"y","type":"quantitative"}}},
{"data":{"name":"titles"},"mark":{"type":"text","font":"Roboto","fontSize":33,"color":"#111111","baseline":"middle","align":"center"},
"encoding":{"x":{"field":"x","type":"quantitative"},"y":{"field":"y","type":"quantitative"},"text":{"field":"t"}}}
]}
